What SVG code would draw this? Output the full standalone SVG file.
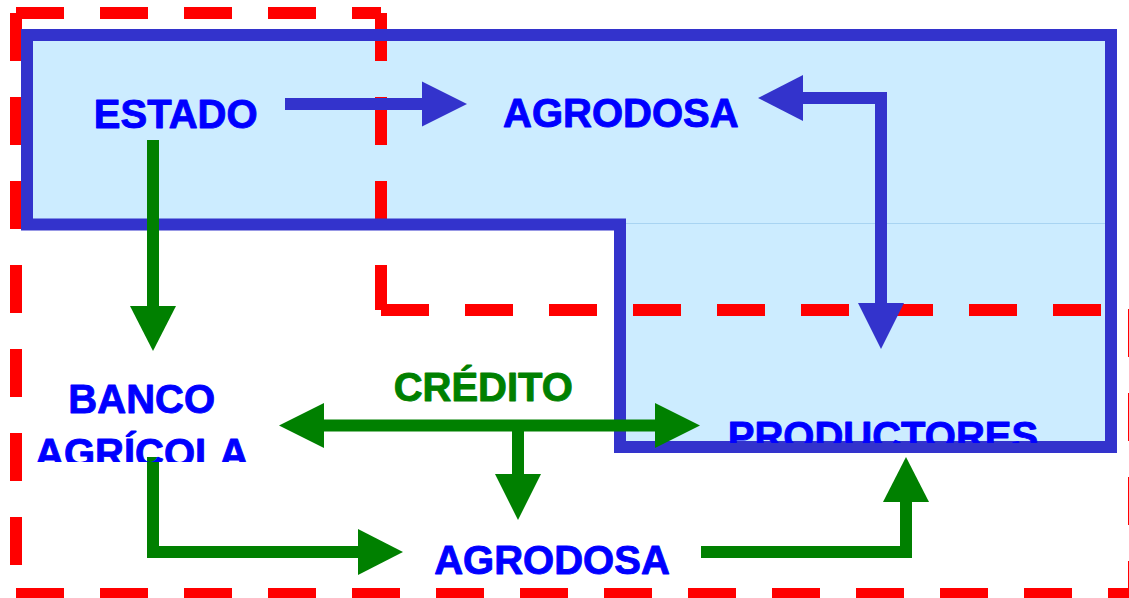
<svg xmlns="http://www.w3.org/2000/svg" width="1129" height="598" viewBox="0 0 1129 598">
<style>
.red{fill:none;stroke:#FF0000;stroke-width:12;stroke-dasharray:48 36;stroke-linecap:butt}
.bl{fill:none;stroke:#3333CC;stroke-width:12}
.blh{fill:#3333CC}
.gr{fill:none;stroke:#008000;stroke-width:12}
.grh{fill:#008000}
.t{font-family:"Liberation Sans",Arial,sans-serif;font-weight:bold;font-size:40px;text-anchor:middle;fill:#0000FF;stroke:#0000FF;stroke-width:0.9;stroke-linejoin:round}
.tg{fill:#008000;stroke:#008000}
</style>
<defs>
<clipPath id="clipBanco"><rect x="0" y="360" width="320" height="102"/></clipPath>
<clipPath id="clipProd"><rect x="640" y="380" width="460" height="63"/></clipPath>
</defs>
<rect width="1129" height="598" fill="#FFFFFF"/>
<g id="region-blue-fill">
<polygon points="27,35 1111,35 1111,447 620,447 620,224.5 27,224.5" fill="#CCECFF"/>
<line x1="626" y1="223.5" x2="1105" y2="223.5" stroke="#A8D4F2" stroke-width="1"/>
</g>
<g id="region-red">
<line class="red" x1="16" y1="13" x2="381" y2="13"/>
<line class="red" x1="381" y1="13" x2="381" y2="310"/>
<line class="red" x1="381" y1="310" x2="1134" y2="310"/>
<line class="red" x1="1134" y1="309" x2="1134" y2="594"/>
<line class="red" x1="16" y1="594" x2="1134" y2="594"/>
<line class="red" x1="16" y1="13" x2="16" y2="594"/>
</g>
<g id="region-blue-outline">
<polygon class="bl" stroke-width="11.5" points="27,35 1111,35 1111,447 620,447 620,224.5 27,224.5"/>
</g>
<g id="connectors">
<line class="bl" x1="285" y1="104" x2="423" y2="104"/>
<polygon class="blh" points="422,81.5 467,104 422,126.5"/>
<polyline class="bl" points="802,98 881,98 881,304"/>
<polygon class="blh" points="803,75 758,98 803,121"/>
<polygon class="blh" points="858,303 881,349 904,303"/>
<line class="gr" x1="153" y1="140" x2="153" y2="307"/>
<polygon class="grh" points="130,306 153,351 176,306"/>
<line class="gr" x1="323" y1="425.5" x2="656" y2="425.5"/>
<polygon class="grh" points="324,403 279,425.5 324,448"/>
<polygon class="grh" points="655,403 700,425.5 655,448"/>
<line class="gr" x1="518" y1="425.5" x2="518" y2="475"/>
<polygon class="grh" points="495,474 518,520 541,474"/>
<polyline class="gr" points="153,457 153,552 359,552"/>
<polygon class="grh" points="358,529 403,552 358,575"/>
<polyline class="gr" points="701,552 906,552 906,501"/>
<polygon class="grh" points="883,502 906,457 929,502"/>
</g>
<g id="node-estado"><text class="t" x="175.7" y="127.5">ESTADO</text></g>
<g id="node-agrodosa-top"><text class="t" x="620.8" y="127">AGRODOSA</text></g>
<g id="node-banco"><g clip-path="url(#clipBanco)"><text class="t" x="141.7" y="413">BANCO</text><text class="t" x="141.7" y="467">AGRÍCOLA</text></g></g>
<g id="label-credito"><text class="t tg" x="483.3" y="400.7">CRÉDITO</text></g>
<g id="node-productores"><g clip-path="url(#clipProd)"><text class="t" x="883" y="449.5">PRODUCTORES</text></g></g>
<g id="node-agrodosa-bottom"><text class="t" x="552" y="574">AGRODOSA</text></g>
</svg>
